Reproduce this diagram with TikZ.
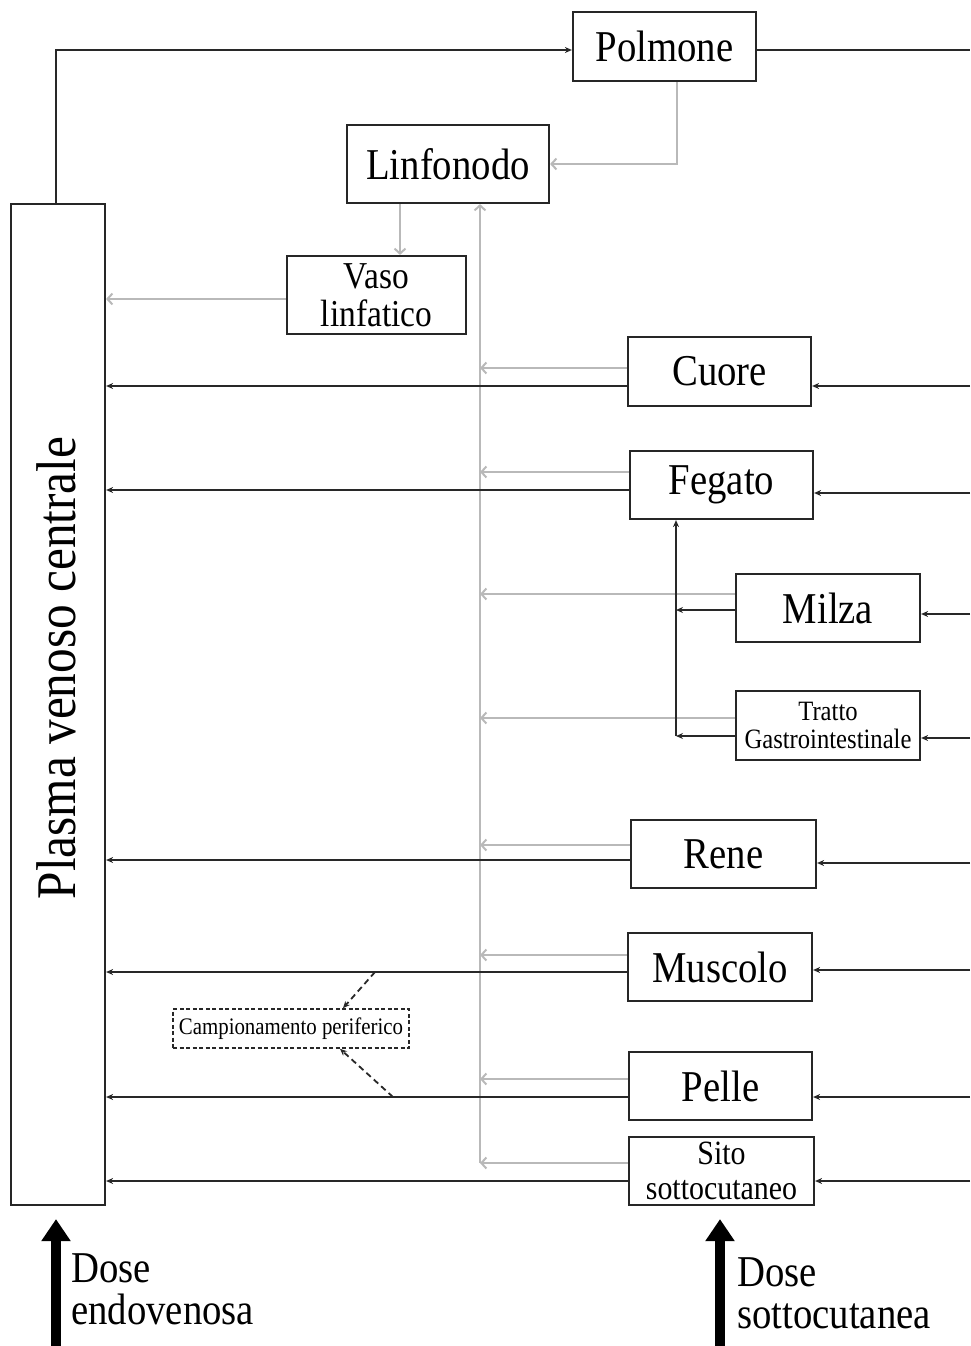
\documentclass[tikz,border=0pt]{standalone}
\usepackage{fontspec}
\setmainfont{Liberation Serif}[FakeStretch=0.88]
\usetikzlibrary{arrows.meta}
\definecolor{lgray}{RGB}{185,185,185}
\definecolor{dline}{RGB}{40,40,40}
\begin{document}
\begin{tikzpicture}[x=1pt,y=-1pt,
  box/.style={draw=black!85, line width=2.2pt, inner sep=0pt, align=center,
    font=\fontsize{44}{44}\selectfont},
  blk/.style={draw=dline, line width=2pt, -{Stealth[length=7pt,width=6pt]}},
  blkline/.style={draw=dline, line width=2pt},
  gry/.style={draw=lgray, line width=2pt, -{Straight Barb[length=5pt,width=11pt]}},
  dsh/.style={draw=dline, line width=1.8pt, dash pattern=on 6pt off 4pt, -{Stealth[length=7pt,width=6pt]}},
  dosearrow/.style={draw=black, line width=10pt, -{Triangle[length=22pt,width=28pt]}},
  dosetext/.style={anchor=north west, inner sep=0pt, align=left, font=\fontsize{44}{42}\selectfont}
]
\useasboundingbox (0,0) rectangle (970,1346);

% nodes
\node[box, minimum width=183pt, minimum height=69pt] (polmone) at (664.5,46.5) {Polmone};
\node[box, minimum width=202pt, minimum height=78pt] (linfonodo) at (448,164) {Linfonodo};
\node[box, minimum width=179pt, minimum height=78pt, font=\fontsize{38}{38}\selectfont] (vaso) at (376.5,295) {Vaso\\linfatico};
\node[box, minimum width=94pt, minimum height=1001pt] (plasma) at (58,704.5) {};
\node[inner sep=0pt, rotate=90, font=\fontsize{56}{56}\selectfont] (plasmatext) at (56,668) {Plasma venoso centrale};
\node[box, minimum width=183pt, minimum height=69pt] (cuore) at (719.5,371.5) {Cuore};
\node[box, minimum width=183pt, minimum height=68pt] (fegato) at (721.5,485) {Fegato};
\node[box, minimum width=184pt, minimum height=68pt] (milza) at (828,608) {Milza};
\node[box, minimum width=184pt, minimum height=69pt, font=\fontsize{28}{28}\selectfont] (tratto) at (828,725.5) {Tratto\\Gastrointestinale};
\node[box, minimum width=185pt, minimum height=68pt] (rene) at (723.5,854) {Rene};
\node[box, minimum width=184pt, minimum height=68pt] (muscolo) at (720,967) {Muscolo};
\node[box, minimum width=183pt, minimum height=68pt] (pelle) at (720.5,1086) {Pelle};
\node[box, minimum width=185pt, minimum height=68pt, font=\fontsize{34}{35}\selectfont] (sito) at (721.5,1171) {Sito\\sottocutaneo};
\node[draw=dline, line width=1.6pt, dash pattern=on 4pt off 2.5pt, inner sep=0pt,
  minimum width=236pt, minimum height=39pt, font=\fontsize{23.7}{24}\selectfont] (camp) at (291,1028.5) {Campionamento periferico};

% helper coordinates
\coordinate (R) at (970,0);
\coordinate (gl) at (480,203);
\coordinate (fl) at (676,519);
\coordinate (ms) at (375,972);
\coordinate (ps) at (393,1097);
\coordinate (iv) at (56,1346);
\coordinate (sc) at (720,1346);

% top circuit
\draw[blk] (plasma.north -| 56,0) |- ([yshift=-3.5]polmone.west);
\draw[blkline] ([yshift=-3.5]polmone.east) -- ([yshift=-3.5]polmone.east -| R);

% lymph path (gray)
\draw[gry] ([xshift=12]polmone.south) |- (linfonodo.east);
\draw[gry] ([xshift=-48]linfonodo.south) -- ([xshift=-48]linfonodo.south |- vaso.north);
\draw[gry] ([yshift=-4]vaso.west) -- ([yshift=-4]vaso.west -| plasma.east);
\draw[gry] (480,1163) -- (gl |- linfonodo.south);

% gray organ -> lymph line
\draw[gry] ([yshift=3.5]cuore.west) -- ([yshift=3.5]cuore.west -| gl);
\draw[gry] ([yshift=13]fegato.west) -- ([yshift=13]fegato.west -| gl);
\draw[gry] ([yshift=14]milza.west) -- ([yshift=14]milza.west -| gl);
\draw[gry] ([yshift=7.5]tratto.west) -- ([yshift=7.5]tratto.west -| gl);
\draw[gry] ([yshift=9]rene.west) -- ([yshift=9]rene.west -| gl);
\draw[gry] ([yshift=12]muscolo.west) -- ([yshift=12]muscolo.west -| gl);
\draw[gry] ([yshift=7]pelle.west) -- ([yshift=7]pelle.west -| gl);
\draw[gry] ([yshift=8]sito.west) -- ([yshift=8]sito.west -| gl);

% black organ -> plasma
\draw[blk] ([yshift=-14.5]cuore.west) -- ([yshift=-14.5]cuore.west -| plasma.east);
\draw[blk] ([yshift=-5]fegato.west) -- ([yshift=-5]fegato.west -| plasma.east);
\draw[blk] ([yshift=-6]rene.west) -- ([yshift=-6]rene.west -| plasma.east);
\draw[blk] ([yshift=-5]muscolo.west) -- ([yshift=-5]muscolo.west -| plasma.east);
\draw[blk] ([yshift=-11]pelle.west) -- ([yshift=-11]pelle.west -| plasma.east);
\draw[blk] ([yshift=-10]sito.west) -- ([yshift=-10]sito.west -| plasma.east);

% spleen, GI -> liver
\draw[blk] ([yshift=-2]milza.west) -- ([yshift=-2]milza.west -| fl);
\draw[blk] ([yshift=-10.5]tratto.west) -- ([yshift=-10.5]tratto.west -| fl);
\draw[blk] ([yshift=-10.5]tratto.west -| fl) -- (fl |- fegato.south);

% arterial inputs from right
\draw[blk] ([yshift=-14.5]cuore.east -| R) -- ([yshift=-14.5]cuore.east);
\draw[blk] ([yshift=-8]fegato.east -| R) -- ([yshift=-8]fegato.east);
\draw[blk] ([yshift=-6]milza.east -| R) -- ([yshift=-6]milza.east);
\draw[blk] ([yshift=-12.5]tratto.east -| R) -- ([yshift=-12.5]tratto.east);
\draw[blk] ([yshift=-9]rene.east -| R) -- ([yshift=-9]rene.east);
\draw[blk] ([yshift=-3]muscolo.east -| R) -- ([yshift=-3]muscolo.east);
\draw[blk] ([yshift=-11]pelle.east -| R) -- ([yshift=-11]pelle.east);
\draw[blk] ([yshift=-10]sito.east -| R) -- ([yshift=-10]sito.east);

% peripheral sampling
\draw[dsh] (ms) -- ([xshift=52]camp.north);
\draw[dsh] (ps) -- ([xshift=49]camp.south);

% doses
\draw[dosearrow] (iv) -- ([yshift=-13]plasma.south -| iv);
\draw[dosearrow] (sc) -- ([yshift=-13]sito.south -| sc);
\node[dosetext] (ivtext) at (71,1253) {Dose\\endovenosa};
\node[dosetext] (sctext) at (737,1257) {Dose\\sottocutanea};
\end{tikzpicture}
\end{document}
